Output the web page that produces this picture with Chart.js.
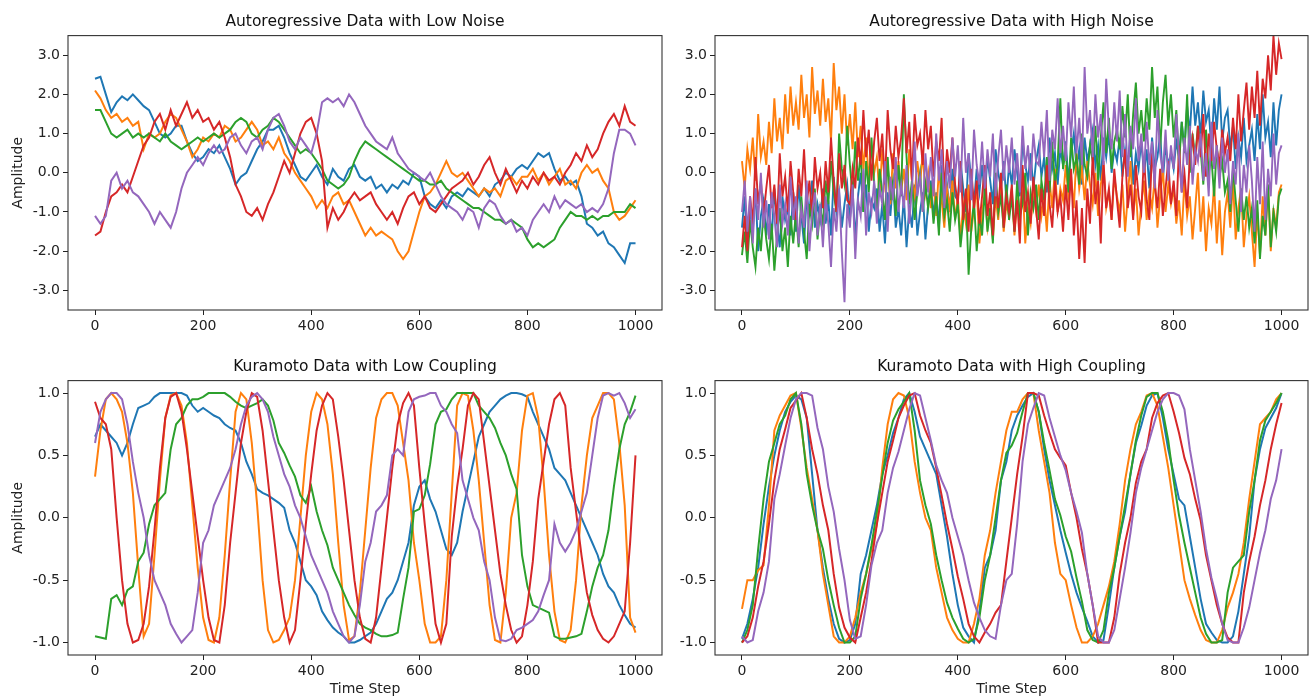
<!DOCTYPE html>
<html>
<head>
<meta charset="utf-8">
<script src="https://cdn.jsdelivr.net/npm/chart.js@4.4.1/dist/chart.umd.min.js"></script>
<style>
  body { margin: 0; background: #fff; }
  #wrap { position: relative; width: 1309px; height: 699px; overflow: hidden; }
  canvas { position: absolute; }
</style>
</head>
<body>
<div id="wrap">
  <canvas id="arLow" width="665" height="345" style="left:0;top:0"></canvas>
  <canvas id="arHigh" width="644" height="345" style="left:665px;top:0"></canvas>
  <canvas id="kuraLow" width="665" height="354" style="left:0;top:345px"></canvas>
  <canvas id="kuraHigh" width="644" height="354" style="left:665px;top:345px"></canvas>
</div>
<script>
// samples: every 10 time steps, every 5 for the noisy panel
const STEP = 10;
const STEP_NOISY = 5;
const COLORS = ['#1f77b4', '#ff7f0e', '#2ca02c', '#d62728', '#9467bd'];
const xTicks = [0, 200, 400, 600, 800, 1000];
const arTicks = [-3, -2, -1, 0, 1, 2, 3];
const kuraTicks = [-1, -0.5, 0, 0.5, 1];

// Autoregressive, low noise
const arLowBlue = [
  2.4, 2.45, 2.0, 1.55, 1.8, 1.95, 1.85, 2.0, 1.85, 1.7,
  1.6, 1.3, 1.0, 0.9, 1.0, 1.2, 1.2, 0.8, 0.5, 0.3,
  0.4, 0.6, 0.5, 0.7, 0.4, 0.1, -0.3, -0.1, 0.0, 0.3,
  0.6, 0.8, 1.1, 1.1, 1.2, 0.9, 0.5, 0.2, -0.1, -0.2,
  0.0, 0.2, -0.1, -0.3, 0.1, -0.1, -0.2, 0.1, 0.2, -0.1,
  -0.2, -0.1, -0.4, -0.3, -0.5, -0.3, -0.4, -0.2, -0.3, 0.0,
  -0.1, -0.6, -0.8, -0.9, -0.7, -0.9, -0.6, -0.5, -0.6, -0.4,
  -0.5, -0.6, -0.4, -0.6, -0.3, -0.2, 0.0, -0.1, 0.1, 0.2,
  0.1, 0.3, 0.5, 0.4, 0.5, 0.1, -0.2, -0.1, -0.3, -0.2,
  -0.6, -1.3, -1.4, -1.6, -1.5, -1.8, -1.9, -2.1, -2.3, -1.8,
  -1.8
];
const arLowOrange = [
  2.1, 1.9, 1.6, 1.4, 1.5, 1.3, 1.4, 1.2, 1.3, 0.6,
  1.0, 0.9, 1.0, 1.3, 1.5, 1.4, 1.1, 0.8, 0.4, 0.6,
  0.9, 0.8, 1.0, 0.9, 1.2, 1.1, 0.8, 0.9, 1.1, 1.3,
  1.1, 0.7, 0.8, 0.6, 0.9, 0.5, 0.3, 0.0, -0.2, -0.4,
  -0.6, -0.9, -0.7, -0.9, -0.6, -0.5, -0.8, -0.7, -1.0, -1.3,
  -1.6, -1.4, -1.6, -1.5, -1.6, -1.7, -2.0, -2.2, -2.0, -1.5,
  -1.0, -0.6, -0.5, -0.3, 0.0, 0.3, 0.0, -0.1, 0.0, -0.2,
  -0.4, -0.6, -0.4, -0.5, -0.4, -0.6, -0.2, -0.1, -0.3, -0.1,
  -0.1, 0.1, -0.2, 0.0, -0.3, -0.1, 0.1, -0.3, -0.2, -0.4,
  0.0, 0.2, 0.0, 0.1, -0.2, -0.4, -1.0, -1.2, -1.1, -0.9,
  -0.7
];
const arLowGreen = [
  1.6, 1.6, 1.3, 1.0, 0.9, 1.0, 1.1, 0.9, 1.0, 0.9,
  1.0, 0.9, 0.8, 1.0, 0.8, 0.7, 0.6, 0.7, 0.8, 0.9,
  0.8, 0.9, 1.0, 0.9, 1.0, 1.1, 1.3, 1.4, 1.3, 1.0,
  0.9, 1.1, 1.2, 1.4, 1.3, 1.1, 0.9, 0.7, 0.5, 0.6,
  0.5, 0.3, 0.1, -0.2, -0.3, -0.4, -0.3, -0.1, 0.3, 0.6,
  0.8, 0.7, 0.6, 0.5, 0.4, 0.3, 0.2, 0.1, 0.0, -0.1,
  -0.2, -0.2, -0.3, -0.3, -0.2, -0.4, -0.5, -0.6, -0.7, -0.8,
  -0.9, -0.9, -1.0, -1.1, -1.2, -1.2, -1.3, -1.2, -1.3, -1.4,
  -1.7, -1.9, -1.8, -1.9, -1.8, -1.7, -1.4, -1.2, -1.0, -1.1,
  -1.1, -1.2, -1.1, -1.2, -1.1, -1.1, -1.0, -1.0, -1.0, -0.8,
  -0.9
];
const arLowRed = [
  -1.6, -1.5, -1.0, -0.6, -0.5, -0.3, -0.5, -0.1, 0.3, 0.7,
  0.9, 1.3, 1.5, 1.1, 1.6, 1.2, 1.5, 1.8, 1.4, 1.6,
  1.3, 1.4, 1.1, 1.3, 0.9, 0.4, -0.3, -0.6, -1.0, -1.1,
  -0.9, -1.2, -0.8, -0.5, -0.1, 0.3, 0.0, 0.5, 1.0, 1.3,
  1.4, 1.0, 0.3, -1.4, -0.9, -1.2, -1.0, -0.7, -0.5, -0.7,
  -0.6, -0.5, -0.8, -1.0, -1.2, -1.0, -1.3, -0.9, -0.6, -0.5,
  -0.8, -0.6, -0.9, -1.0, -0.8, -0.6, -0.4, -0.3, -0.2, 0.0,
  -0.3, -0.1, 0.2, 0.4, 0.0, -0.3, 0.1, -0.2, -0.5, -0.2,
  -0.4, -0.1, -0.3, 0.0, -0.2, -0.1, -0.3, 0.0, 0.2, 0.5,
  0.3, 0.7, 0.4, 0.6, 1.0, 1.3, 1.5, 1.2, 1.7, 1.3,
  1.2
];
const arLowPurple = [
  -1.1, -1.3, -1.1, -0.2, 0.0, -0.4, -0.2, -0.5, -0.6, -0.8,
  -1.0, -1.3, -1.0, -1.2, -1.4, -1.0, -0.4, 0.0, 0.2, 0.4,
  0.2, 0.5, 0.7, 0.5, 0.6, 0.9, 1.0, 0.7, 0.5, 0.8,
  0.9, 0.6, 1.1, 1.4, 1.5, 1.2, 0.8, 0.6, 0.9, 0.7,
  0.5, 1.0, 1.8, 1.9, 1.8, 1.9, 1.7, 2.0, 1.8, 1.5,
  1.2, 1.0, 0.8, 0.7, 0.6, 0.9, 0.5, 0.3, 0.1, 0.0,
  -0.1, -0.2, 0.0, -0.3, -0.6, -0.8, -0.9, -1.0, -1.2, -0.9,
  -1.0, -1.4, -0.9, -0.7, -0.8, -1.1, -1.3, -1.2, -1.5, -1.4,
  -1.6, -1.2, -1.0, -0.8, -1.0, -0.6, -0.9, -0.7, -0.8, -0.9,
  -0.8, -1.0, -0.9, -1.0, -0.8, -0.4, 0.5, 1.1, 1.1, 1.0,
  0.7
];

// Autoregressive, high noise (every 5 steps)
const arHighBlue = [
  -1.4, -0.6, -1.9, -0.9, -1.5, -0.4, -2.0, -1.1, -0.7, -1.6,
  -0.8, -1.7, -0.4, -1.3, -1.9, -0.6, -1.2, -0.9, -1.6, -0.5,
  -1.5, -0.3, -1.1, -1.8, -0.6, -1.0, -0.2, -1.4, -0.8, -1.2,
  -0.4, -1.3, -0.7, -1.6, -0.1, -1.0, -0.5, -1.4, -0.8, -0.3,
  -1.2, -0.4, -1.7, -0.6, 0.0, -1.0, -0.3, -1.5, -0.7, -0.9,
  -0.4, -1.5, -0.8, -1.8, -0.5, -1.1, -0.2, -1.4, -0.9, -1.6,
  -0.6, -1.9, -0.9, -1.4, -0.3, -1.6, -1.0, -0.5, -1.7, -0.8,
  -0.2, -1.1, -0.5, -1.4, 0.2, -0.8, -0.3, -1.0, 0.1, -0.6,
  -0.7, 0.3, -0.4, -1.0, 0.5, -0.2, -0.8, 0.1, -0.5, 0.2,
  -0.6, 0.4, -0.2, -0.8, 0.6, 0.0, -0.4, 0.3, -0.7, 0.2,
  -0.3, 0.6, 0.0, -0.6, 0.8, 0.2, -0.2, 0.5, -0.4, 0.3,
  0.7, -0.1, 0.4, -0.5, 0.9, 0.1, 0.5, -0.3, 0.6, 0.2,
  0.8, -0.2, 0.5, 1.0, 0.1, 0.6, -0.3, 0.9, 0.3, 0.7,
  1.1, 0.2, 0.7, -0.2, 0.9, 0.4, 1.0, 0.0, 0.6, 0.3,
  0.9, -0.1, 0.6, 0.2, 1.0, -0.3, 0.5, 0.1, 0.8, 0.0,
  0.6, -0.4, 0.9, 0.1, 0.4, 1.0, -0.2, 0.7, 0.2, 0.5,
  0.1, 0.8, 0.4, 1.3, 0.6, 1.7, 1.0, 2.2, 1.2, 1.8,
  0.9, 2.1, 1.3, 1.6, 0.6, 1.9, 1.1, 2.2, 0.8, 1.4,
  1.6, 0.6, 1.2, 0.1, 0.9, 0.4, 1.4, 0.3, 0.7, 1.1,
  0.3, 1.5, 0.6, 2.0, 0.9, 1.3, 0.4, 1.8, 0.7, 1.6,
  2.0
];
const arHighOrange = [
  0.3, -0.4, 0.6, 0.1, 0.9, -0.2, 1.5, 0.4, 0.8, 0.2,
  1.3, 0.5, 1.9, 0.8, 1.4, 0.6, 2.0, 1.0, 2.2, 1.2,
  1.8, 1.1, 2.5, 1.4, 2.0, 0.9, 2.7, 1.5, 2.1, 1.2,
  2.4, 1.3, 1.9, 0.8, 2.8, 1.6, 2.2, 1.0, 2.0, 0.7,
  1.5, 0.6, 1.8, 0.4, 1.2, 0.1, 0.9, -0.2, 0.7, 0.0,
  0.4, -0.6, 0.6, -0.3, 0.2, -0.8, 0.5, -0.4, 0.3, -0.5,
  0.1, -0.7, 0.6, -0.2, -0.6, 0.3, -0.3, 0.5, -0.5, 0.0,
  -0.9, -0.2, -1.1, 0.1, -0.7, -1.4, -0.4, -0.9, -0.2, -1.2,
  -0.6, -1.7, -0.8, -1.3, -0.3, -1.5, -0.9, -0.4, -1.8, -1.0,
  -0.5, -1.4, -0.9, -1.7, -0.6, -1.2, -0.3, -1.5, -0.8, -1.1,
  -0.4, -1.6, -0.7, -1.2, -0.2, -1.8, -0.9, -1.3, -0.5, -1.0,
  -0.3, -1.1, -0.6, -1.5, -0.2, -0.9, 0.1, -1.0, -0.4, -0.7,
  0.2, -0.6, -0.1, -0.9, 0.5, -0.4, 0.1, -0.7, 0.3, -0.3,
  -0.8, 0.0, -1.1, -0.3, 0.2, -0.9, -0.5, -1.2, -0.1, -0.6,
  -1.0, -0.3, -1.5, -0.6, 0.3, -1.1, -0.4, -1.6, -0.8, -0.2,
  -1.2, -0.5, -0.9, -0.1, -1.4, -0.6, 0.1, -1.0, -0.3, -0.8,
  -0.4, -1.3, -0.7, -1.6, -0.2, -1.1, -0.6, -1.7, -0.9, 0.0,
  -1.5, -0.6, -2.0, -0.9, -1.3, -0.3, -1.8, -0.7, -2.1, -1.0,
  -0.5, -1.4, -0.2, -1.7, -0.9, -0.4, -1.9, -1.1, -0.6, -1.5,
  -2.4, -1.0, -2.1, -0.6, -1.6, -0.3, -2.0, -0.9, -1.4, -0.5,
  -0.3
];
const arHighGreen = [
  -2.1, -1.5, -2.3, -1.2, -1.9, -2.4, -1.4, -2.0, -1.0, -1.7,
  -2.2, -1.3, -2.5, -1.6, -0.9, -2.0, -1.4, -2.4, -1.1, -1.8,
  -1.0, -1.9, -0.6, -1.5, -2.2, -0.8, -1.3, -0.4, -1.7, -0.9,
  -1.3, -0.2, -0.8, 0.3, -0.5, -1.0, 1.0, 0.1, -0.3, 1.2,
  0.2, -0.6, 0.8, -0.2, 0.5, -1.0, 0.3, -0.5, 0.9, -0.3,
  -1.0, 0.1, -0.5, -1.2, 0.4, -0.7, -0.2, -1.1, 0.2, -0.6,
  2.0, 0.4, -0.8, -0.2, -1.2, -0.5, 0.0, -1.0, -0.3, -0.9,
  -0.4, -1.3, -0.6, -1.6, 0.0, -1.1, -0.7, -1.5, -0.5, -1.2,
  -0.8, -1.9, -1.2, -0.5, -2.6, -1.4, -0.7, -2.0, -1.1, -1.6,
  -0.4, -1.5, -0.9, -1.8, 0.0, -1.0, -0.6, -1.4, -0.3, -1.2,
  -0.6, -1.5, -0.2, -1.1, -0.8, 0.0, -1.6, -0.5, -0.9, -0.3,
  -1.2, -0.2, -0.7, 0.4, -0.5, 0.8, -0.3, 0.2, 1.9, 0.1,
  0.6, -0.5, 0.9, 0.1, 0.4, -0.3, 1.0, 0.2, -0.1, 0.7,
  0.3, 1.2, -0.2, 0.9, 1.8, 0.5, 1.4, 0.1, 0.8, 1.1,
  0.6, 1.7, 0.9, 2.0, 0.4, 1.5, 2.3, 1.0, 1.6, 0.8,
  1.9, 1.1, 2.7, 1.4, 2.2, 0.6, 1.8, 2.5, 1.2, 2.0,
  0.9, 1.6, 0.2, 1.3, 0.5, 2.0, 0.0, 1.0, 0.4, 1.2,
  0.6, -0.3, 1.1, 0.0, 0.4, -0.6, 0.7, -0.1, 0.3, -0.5,
  -0.2, -1.0, 0.1, -0.7, -1.5, -0.4, -1.2, -0.6, -1.4, -0.9,
  -1.8, -0.7, -2.2, -1.1, -1.6, -0.3, -1.9, -1.0, -1.5, -0.6,
  -0.4
];
const arHighRed = [
  -1.9, -1.1, -2.0, -0.6, -1.3, 0.4, -0.8, -0.2, -1.1, -0.4,
  0.2, -0.9, -0.3, -1.3, 0.5, -0.6, -0.1, -1.0, 0.3, -0.5,
  -1.2, 0.1, -0.6, 0.6, -0.8, -0.2, -1.1, 0.4, -0.4, 0.0,
  -0.9, 0.3, -0.5, 0.9, -0.2, -1.0, 0.5, -0.4, 0.2, -0.7,
  -0.8, 0.1, -0.4, 0.9, 0.2, 1.6, 0.4, 1.1, -0.2, 0.8,
  1.4, 0.3, 1.0, -0.3, 1.6, 0.6, 0.1, 1.2, 0.4, 0.9,
  1.9, 0.5, 1.3, -0.2, 1.5, 0.7, 1.0, 0.2, 1.6, 0.6,
  1.2, -0.1, 0.8, 0.3, 1.4, -0.5, 0.6, 0.0, 0.9, -0.3,
  -0.8, 0.3, -1.2, -0.4, -1.5, 0.1, -0.9, -0.2, -1.3, -0.6,
  0.2, -1.1, -0.5, -1.6, -0.3, -0.9, 0.0, -1.4, -0.6, -1.0,
  -0.3, -1.5, -0.7, -1.8, 0.2, -1.0, -0.5, -1.3, -0.1, -0.9,
  -1.7, -0.4, -1.1, 0.2, -0.8, -1.4, -0.2, -1.0, -0.6, -1.5,
  -0.3, -1.2, 0.1, -1.6, -0.7, -2.2, -0.9, -2.3, -0.4, -1.3,
  0.5, -0.8, -0.2, -1.8, 0.3, -0.9, -0.4, -1.2, 0.1, -0.7,
  -1.4, -0.1, 0.6, -0.9, -0.3, -1.2, 0.2, -0.6, -1.0, 0.4,
  -0.7, -1.2, 0.6, -0.3, -0.9, 0.1, -1.1, -0.4, 0.3, -0.8,
  -0.2, -1.1, 0.7, -0.5, 0.0, -0.9, 0.4, 0.9, 0.2, 1.2,
  0.4, 1.5, -0.1, 1.0, 0.3, 1.3, 0.6, 0.2, 1.1, 0.5,
  0.9, 0.3, 1.4, 0.6, 2.0, 0.8, 1.6, 2.3, 1.1, 2.2,
  1.4, 2.6, 1.2, 2.4, 1.9, 3.0, 2.1, 3.5, 2.5, 3.3,
  2.9
];
const arHighPurple = [
  -1.0, -0.2, -1.5, -0.6, -1.8, -0.4, -1.2, 0.0, -1.4, -0.7,
  -1.7, -0.5, -1.1, -1.9, -0.3, -1.3, -0.8, -1.6, -0.1, -1.2,
  -0.6, -1.8, -0.9, -1.4, -0.2, -2.0, -1.0, -0.5, -1.6, -0.8,
  -1.9, -0.6, -1.3, -2.4, -0.9, -1.5, -0.4, -2.0, -3.3, -0.8,
  -1.4, -0.3, -2.2, -0.7, -1.1, 0.1, -1.6, -0.5, -1.0, -0.2,
  -1.3, -0.4, -0.8, 0.3, -1.5, -0.1, -0.7, 0.4, -1.0, -0.3,
  -0.9, 0.2, -1.3, -0.4, 0.8, -0.6, -0.1, -1.0, 0.5, -0.5,
  0.4, -0.6, 1.0, -0.2, 0.6, -0.9, 0.3, -0.4, 0.9, -0.1,
  0.7, -0.5, 1.4, 0.0, 0.5, -0.7, 1.1, 0.2, -0.3, 0.8,
  -0.4, 0.6, -0.1, 1.0, -0.6, 0.4, 1.1, -0.2, 0.7, 0.0,
  0.9, -0.3, 0.5, -0.5, 1.2, 0.1, 0.7, -0.2, 1.0, 0.3,
  0.2, 1.3, 0.4, 1.6, -0.2, 1.1, 0.6, 1.9, 0.5, 1.2,
  0.3, 1.8, 0.9, 2.2, 0.5, 1.4, 0.2, 2.7, 1.0, 1.6,
  0.4, 2.0, 0.9, 1.5, 0.2, 2.4, 1.1, 0.6, 1.8, 0.8,
  2.1, 0.4, 1.5, -0.1, 1.2, 0.6, 1.9, 0.3, 1.0, 0.0,
  1.3, 0.2, 0.8, -0.4, 1.6, 0.5, 0.0, 1.1, -0.2, 0.7,
  0.1, 1.5, 0.4, -0.5, 0.9, 0.2, 1.2, -0.3, 0.6, 0.3,
  1.0, -0.2, 0.5, -0.6, 1.3, 0.1, 0.7, -0.4, 0.9, 0.0,
  0.6, -0.8, 0.3, -0.3, 1.0, -1.0, 0.2, -0.5, 0.7, -0.2,
  -1.5, 0.4, -0.8, 0.8, -1.2, 0.1, -0.6, 1.0, -0.3, 0.5,
  0.7
];

// Kuramoto, low coupling
const kuraLowBlue = [
  0.65, 0.75, 0.7, 0.65, 0.6, 0.5, 0.6, 0.75, 0.88, 0.9,
  0.92, 0.97, 1.0, 1.0, 1.0, 1.0, 1.0, 0.98, 0.9, 0.85,
  0.88, 0.85, 0.82, 0.8, 0.75, 0.72, 0.7, 0.6, 0.45, 0.35,
  0.23, 0.2, 0.18, 0.15, 0.12, 0.08, -0.1, -0.2, -0.35, -0.5,
  -0.55, -0.62, -0.75, -0.82, -0.88, -0.92, -0.95, -1.0, -1.0, -0.98,
  -0.95, -0.92, -0.85, -0.75, -0.65, -0.6, -0.5, -0.35, -0.2, 0.1,
  0.25, 0.3, 0.15, 0.05, -0.1, -0.25, -0.3, -0.2, 0.05, 0.25,
  0.45, 0.65, 0.75, 0.85, 0.9, 0.95, 0.98, 1.0, 1.0, 0.99,
  0.97, 0.85, 0.75, 0.65, 0.55, 0.4, 0.35, 0.3, 0.2, 0.1,
  0.0, -0.1, -0.2, -0.3, -0.45, -0.55, -0.6, -0.7, -0.78, -0.85,
  -0.88
];
const kuraLowOrange = [
  0.33, 0.7, 0.95, 1.0, 0.95, 0.85, 0.6, 0.2, -0.4, -0.95,
  -0.85, -0.3, 0.3, 0.8, 0.98, 1.0, 0.9, 0.6, 0.1, -0.4,
  -0.8, -0.98, -1.0, -0.8, -0.3, 0.3, 0.85, 1.0, 0.95, 0.6,
  0.1, -0.5, -0.9, -1.0, -0.98, -0.9, -0.8, -0.5, 0.0, 0.5,
  0.85, 1.0, 0.95, 0.75, 0.35, -0.2, -0.7, -0.98, -0.95, -0.6,
  -0.1, 0.4, 0.8, 0.95, 1.0, 1.0, 0.9, 0.6, 0.3, -0.2,
  -0.5, -0.85, -1.0, -1.0, -0.95, -0.5, 0.2, 0.9, 1.0, 0.98,
  0.7, 0.3, -0.2, -0.7, -0.98, -1.0, -0.6, 0.0, 0.2, 0.7,
  0.98, 1.0, 0.8, 0.3, -0.3, -0.75, -0.98, -1.0, -0.9, -0.5,
  0.1, 0.5, 0.8, 0.9, 1.0, 1.0, 0.95, 0.6, 0.1, -0.8,
  -0.92
];
const kuraLowGreen = [
  -0.95, -0.96, -0.97, -0.65, -0.62, -0.7, -0.58, -0.55, -0.35, -0.28,
  -0.05, 0.1, 0.15, 0.2, 0.55, 0.75, 0.8, 0.9, 0.95, 0.95,
  0.97, 1.0, 1.0, 1.0, 1.0, 0.97, 0.93, 0.9, 0.88, 0.9,
  0.92, 0.95, 0.9, 0.78, 0.6, 0.52, 0.42, 0.33, 0.18, 0.12,
  0.25, 0.05, -0.1, -0.22, -0.4, -0.5, -0.6, -0.7, -0.78, -0.85,
  -0.88, -0.9, -0.93, -0.95, -0.95, -0.94, -0.92, -0.65, -0.4, 0.05,
  0.07, 0.18, 0.43, 0.75, 0.85, 0.87, 0.95, 1.0, 1.0, 1.0,
  1.0, 0.9, 0.85, 0.8, 0.72, 0.6, 0.5, 0.35, 0.23, -0.3,
  -0.55, -0.7, -0.72, -0.74, -0.76, -0.95, -0.97, -0.97, -0.96, -0.95,
  -0.93, -0.75, -0.55, -0.4, -0.3, -0.1, 0.25, 0.55, 0.75, 0.85,
  0.98
];
const kuraLowRed = [
  0.93, 0.8, 0.75, 0.55, 0.0, -0.5, -0.85, -1.0, -0.98, -0.85,
  -0.55, -0.1, 0.4, 0.8, 0.97, 1.0, 0.85, 0.55, 0.2, -0.15,
  -0.5, -0.8, -0.98, -1.0, -0.7, -0.2, 0.2, 0.6, 0.85, 1.0,
  0.97, 0.7, 0.3, -0.1, -0.5, -0.8, -1.0, -0.9, -0.5, -0.05,
  0.35, 0.7, 0.9, 1.0, 0.95, 0.65, 0.3, -0.1, -0.5, -0.8,
  -0.97, -1.0, -0.8, -0.4, 0.0, 0.4, 0.75, 0.92, 1.0, 0.9,
  0.4, -0.05, -0.45, -0.85, -1.0, -0.85, -0.15, 0.25, 0.55, 0.9,
  1.0, 0.95, 0.6, 0.25, -0.1, -0.45, -0.7, -0.9, -1.0, -0.95,
  -0.7, -0.35, 0.15, 0.45, 0.75, 0.95, 1.0, 0.9, 0.4, 0.05,
  -0.3, -0.6, -0.78, -0.9, -0.97, -1.0, -0.95, -0.85, -0.75, -0.2,
  0.5
];
const kuraLowPurple = [
  0.6, 0.85, 0.95, 1.0, 1.0, 0.95, 0.75, 0.45, 0.2, 0.0,
  -0.3, -0.5, -0.6, -0.7, -0.85, -0.93, -1.0, -0.95, -0.9, -0.6,
  -0.2, -0.1, 0.1, 0.2, 0.3, 0.4, 0.55, 0.75, 0.9, 0.97,
  1.0, 0.95, 0.85, 0.65, 0.5, 0.35, 0.25, 0.1, 0.0, -0.15,
  -0.3, -0.4, -0.5, -0.6, -0.75, -0.85, -0.95, -1.0, -0.95, -0.7,
  -0.35, -0.2, 0.05, 0.1, 0.18, 0.5, 0.55, 0.5, 0.85, 0.95,
  0.97, 0.98, 1.0, 1.0, 0.9, 0.85, 0.75, 0.68, 0.3, 0.15,
  0.0, -0.1, -0.35, -0.5, -0.8, -0.98, -0.99, -0.97, -0.9, -0.88,
  -0.85, -0.82, -0.75, -0.62, -0.5, -0.05, -0.2, -0.27, -0.2, -0.1,
  0.05, 0.2, 0.5, 0.8, 0.98, 1.0, 0.98, 1.0, 0.92, 0.8,
  0.87
];

// Kuramoto, high coupling
const kuraHighBlue = [
  -0.97, -0.85, -0.65, -0.4, -0.05, 0.25, 0.5, 0.7, 0.85, 0.93,
  0.98, 0.95, 0.8, 0.35, -0.1, -0.4, -0.65, -0.85, -0.97, -1.0,
  -0.98, -0.85, -0.45, -0.3, -0.1, 0.1, 0.35, 0.5, 0.68, 0.8,
  0.95, 1.0, 0.85, 0.65, 0.55, 0.45, 0.35, 0.1, -0.15, -0.45,
  -0.7, -0.88, -0.95, -1.0, -0.75, -0.4, -0.3, -0.1, 0.3, 0.45,
  0.7, 0.82, 0.9, 0.97, 1.0, 0.85, 0.55, 0.3, 0.1, -0.1,
  -0.28, -0.45, -0.6, -0.72, -0.83, -0.95, -1.0, -0.98, -0.7, -0.4,
  -0.15, 0.05, 0.35, 0.6, 0.74, 0.9, 0.98, 1.0, 0.8, 0.55,
  0.35, 0.15, 0.1, -0.15, -0.4, -0.65, -0.85, -0.92, -0.98, -1.0,
  -1.0, -0.95, -0.75, -0.45, -0.15, 0.3, 0.55, 0.72, 0.8, 0.88,
  1.0
];
const kuraHighOrange = [
  -0.73, -0.5, -0.5, -0.42, -0.38, 0.1, 0.7, 0.82, 0.9, 0.98,
  1.0, 0.72, 0.4, 0.15, -0.1, -0.45, -0.7, -0.95, -1.0, -1.0,
  -0.95, -0.8, -0.6, -0.45, -0.25, -0.05, 0.4, 0.75, 0.95, 1.0,
  0.98, 0.8, 0.45, 0.2, 0.0, -0.1, -0.4, -0.6, -0.8, -0.9,
  -0.97, -1.0, -1.0, -0.85, -0.65, -0.3, -0.1, 0.2, 0.45, 0.7,
  0.85, 0.85, 0.95, 1.0, 1.0, 0.7, 0.45, 0.2, -0.2, -0.45,
  -0.5, -0.7, -0.88, -1.0, -1.0, -0.95, -0.85, -0.7, -0.55, -0.35,
  -0.05, 0.3, 0.55, 0.75, 0.85, 0.98, 1.0, 0.9, 0.65, 0.4,
  0.1, -0.2, -0.5, -0.65, -0.78, -0.9, -0.98, -1.0, -1.0, -0.9,
  -0.72, -0.6, -0.45, -0.2, 0.15, 0.45, 0.75, 0.8, 0.85, 0.95,
  1.0
];
const kuraHighGreen = [
  -1.0, -0.9, -0.7, -0.25, 0.15, 0.45, 0.6, 0.75, 0.82, 0.95,
  1.0, 0.75, 0.35, 0.1, -0.1, -0.25, -0.5, -0.7, -0.88, -1.0,
  -1.0, -0.95, -0.65, -0.45, -0.22, 0.05, 0.33, 0.6, 0.78, 0.87,
  0.93, 1.0, 0.7, 0.3, 0.1, -0.05, -0.3, -0.5, -0.68, -0.8,
  -0.89, -0.97, -1.0, -0.97, -0.8, -0.5, -0.3, 0.0, 0.3, 0.52,
  0.58, 0.68, 0.85, 1.0, 1.0, 0.85, 0.6, 0.38, 0.15, 0.02,
  -0.15, -0.27, -0.48, -0.67, -0.9, -0.98, -1.0, -0.9, -0.6, -0.4,
  -0.15, 0.1, 0.35, 0.62, 0.82, 0.97, 1.0, 1.0, 0.85, 0.62,
  0.3, 0.02, -0.2, -0.4, -0.6, -0.8, -0.93, -1.0, -1.0, -0.98,
  -0.6, -0.4, -0.35, -0.3, 0.05, 0.3, 0.62, 0.78, 0.85, 0.92,
  1.0
];
const kuraHighRed = [
  -1.0, -0.95, -0.8, -0.55, -0.35, -0.05, 0.3, 0.55, 0.71, 0.88,
  0.94, 1.0, 0.8, 0.55, 0.35, 0.1, -0.1, -0.45, -0.72, -0.88,
  -0.96, -1.0, -0.8, -0.6, -0.35, -0.05, 0.2, 0.45, 0.62, 0.8,
  0.9, 0.98, 1.0, 0.82, 0.7, 0.6, 0.4, 0.18, -0.05, -0.25,
  -0.47, -0.65, -0.85, -0.95, -1.0, -0.92, -0.85, -0.76, -0.7, -0.35,
  0.0, 0.35, 0.65, 1.0, 1.0, 0.98, 0.82, 0.68, 0.55, 0.48,
  0.42, 0.2, 0.0, -0.25, -0.45, -0.7, -1.0, -1.0, -1.0, -0.8,
  -0.45, -0.2, 0.0, 0.28, 0.45, 0.55, 0.8, 0.92, 0.98, 1.0,
  0.85, 0.68, 0.48, 0.35, 0.15, -0.02, -0.3, -0.5, -0.7, -0.85,
  -0.96, -1.0, -1.0, -0.6, -0.35, -0.15, 0.1, 0.3, 0.55, 0.75,
  0.92
];
const kuraHighPurple = [
  -0.95, -1.0, -0.98, -0.75, -0.6, -0.35, 0.15, 0.35, 0.58, 0.8,
  0.95, 1.0, 1.0, 0.98, 0.72, 0.55, 0.25, 0.05, -0.25, -0.5,
  -0.82, -0.97, -0.95, -0.7, -0.38, -0.2, -0.1, 0.2, 0.4, 0.53,
  0.7, 0.87, 1.0, 0.98, 0.8, 0.62, 0.42, 0.3, 0.2, 0.0,
  -0.15, -0.3, -0.5, -0.68, -0.8, -0.9, -0.95, -0.97, -0.7, -0.5,
  -0.45, -0.05, 0.45, 0.75, 0.88, 1.0, 0.98, 0.8, 0.65, 0.5,
  0.38, 0.2, 0.05, -0.12, -0.45, -0.7, -0.95, -1.0, -1.0, -0.9,
  -0.65, -0.4, -0.12, 0.2, 0.4, 0.55, 0.7, 0.85, 0.95, 1.0,
  1.0, 0.98, 0.87, 0.55, 0.3, 0.05, -0.25, -0.48, -0.65, -0.85,
  -0.98, -1.0, -1.0, -0.88, -0.72, -0.5, -0.28, -0.1, 0.15, 0.3,
  0.55
];

const FONT = "'DejaVu Sans', sans-serif";
const INK = '#222';

// axes box like matplotlib spines
const frame = {
  id: 'frame',
  afterDatasetsDraw(chart) {
    const { ctx, chartArea: a } = chart;
    ctx.save();
    ctx.strokeStyle = '#333';
    ctx.lineWidth = 1.1;
    ctx.strokeRect(a.left, a.top, a.right - a.left, a.bottom - a.top);
    ctx.restore();
  }
};

function toPoints(values, step) {
  return values.map((v, i) => ({ x: i * step, y: v }));
}

function makePanel(id, title, series, cfg) {
  return new Chart(document.getElementById(id), {
    type: 'line',
    data: {
      datasets: series.map((vals, i) => ({
        data: toPoints(vals, cfg.step),
        borderColor: COLORS[i],
        backgroundColor: COLORS[i],
        borderWidth: cfg.lineWidth,
        pointRadius: 0,
        tension: 0,
        order: series.length - 1 - i
      }))
    },
    options: {
      responsive: false,
      animation: false,
      events: [],
      layout: { padding: { left: 0, right: cfg.padRight, top: 0, bottom: 0 } },
      plugins: {
        legend: { display: false },
        tooltip: { enabled: false },
        title: {
          display: true,
          text: title,
          fullSize: false,
          color: '#111',
          font: { family: FONT, size: 15.5, weight: 'normal' },
          padding: { top: 13, bottom: 4 }
        }
      },
      scales: {
        x: {
          type: 'linear',
          min: -50,
          max: 1049,
          afterBuildTicks: s => { s.ticks = xTicks.map(v => ({ value: v })); },
          afterFit: s => { s.height = cfg.xHeight; },
          grid: { drawOnChartArea: false, tickLength: 5, color: INK },
          border: { display: false },
          ticks: { color: INK, padding: 3, maxRotation: 0, font: { family: FONT, size: 14 },
                   callback: v => String(v) },
          title: cfg.xTitle
            ? { display: true, text: cfg.xTitle, color: INK, font: { family: FONT, size: 14 },
                padding: { top: 0, bottom: 1 } }
            : { display: false }
        },
        y: {
          type: 'linear',
          min: cfg.yMin,
          max: cfg.yMax,
          afterBuildTicks: s => { s.ticks = cfg.yTicks.map(v => ({ value: v })); },
          afterFit: s => { s.width = cfg.yWidth; },
          grid: { drawOnChartArea: false, tickLength: 5, color: INK },
          border: { display: false },
          ticks: { color: INK, padding: 3, font: { family: FONT, size: 14 },
                   callback: v => v.toFixed(1) },
          title: cfg.yTitle
            ? { display: true, text: cfg.yTitle, color: INK, font: { family: FONT, size: 14 },
                padding: { top: 10, bottom: 0 } }
            : { display: false }
        }
      }
    },
    plugins: [frame]
  });
}

makePanel('arLow', 'Autoregressive Data with Low Noise',
  [arLowBlue, arLowOrange, arLowGreen, arLowRed, arLowPurple],
  { step: STEP, lineWidth: 2, yMin: -3.5, yMax: 3.5, yTicks: arTicks, yWidth: 68, xHeight: 35,
    padRight: 3, yTitle: 'Amplitude' });

makePanel('arHigh', 'Autoregressive Data with High Noise',
  [arHighBlue, arHighOrange, arHighGreen, arHighRed, arHighPurple],
  { step: STEP_NOISY, lineWidth: 1.9, yMin: -3.5, yMax: 3.5, yTicks: arTicks, yWidth: 50, xHeight: 35,
    padRight: 1 });

makePanel('kuraLow', 'Kuramoto Data with Low Coupling',
  [kuraLowBlue, kuraLowOrange, kuraLowGreen, kuraLowRed, kuraLowPurple],
  { step: STEP, lineWidth: 2, yMin: -1.1, yMax: 1.1, yTicks: kuraTicks, yWidth: 68, xHeight: 44,
    padRight: 3, yTitle: 'Amplitude', xTitle: 'Time Step' });

makePanel('kuraHigh', 'Kuramoto Data with High Coupling',
  [kuraHighBlue, kuraHighOrange, kuraHighGreen, kuraHighRed, kuraHighPurple],
  { step: STEP, lineWidth: 2, yMin: -1.1, yMax: 1.1, yTicks: kuraTicks, yWidth: 50, xHeight: 44,
    padRight: 1, xTitle: 'Time Step' });
</script>
</body>
</html>
